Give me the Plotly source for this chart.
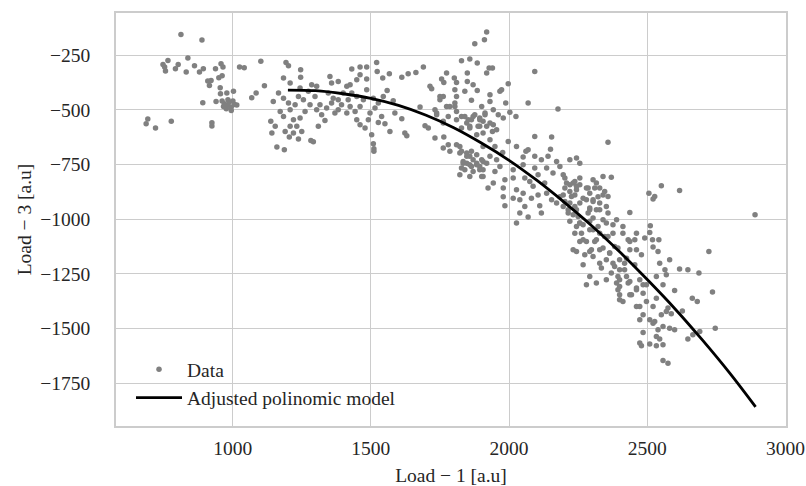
import plotly.graph_objects as go

# ---------------- data ----------------
# scatter points, grouped by region of the chart: (Load-1, Load-3)
pts_far_left = [(813,-156),(889,-181),(766,-275),(748,-293),(754,-305),(757,-323),(803,-293),(793,-313),
    (838,-264),(862,-299),(832,-328),(880,-328),(894,-313),(938,-313),(958,-290),(965,-305),(962,-345),
    (950,-354),(910,-369),(922,-366),(916,-389),(955,-399),(979,-424),(1003,-416),(956,-427),(892,-468),
    (940,-462),(962,-460),(970,-473),(983,-480),(995,-488),(1007,-476),(988,-465),(977,-495),(1001,-460),
    (1015,-478),(967,-485),(995,-503),(983,-454),(1025,-305),(1042,-308),(1102,-279),(1115,-390),
    (1085,-424),(1069,-445),(693,-542),(687,-564),(721,-584),(778,-553),(925,-559),(925,-574)]

pts_left = [(1193,-284),(1202,-299),(1246,-317),(1246,-351),(1184,-355),(1208,-378),(1166,-424),
    (1147,-462),(1184,-447),(1202,-469),(1172,-508),(1184,-531),(1208,-500),(1226,-477),(1238,-439),
    (1256,-454),(1244,-401),(1286,-386),(1304,-393),(1274,-416),(1298,-439),(1280,-477),(1316,-477),
    (1304,-500),(1262,-508),(1244,-538),(1220,-546),(1232,-576),(1208,-576),(1220,-606),(1190,-599),
    (1138,-553),(1154,-576),(1142,-606),(1250,-599),(1238,-634),(1205,-625),(1160,-670),(1187,-683),
    (1283,-640),(1292,-646),(1310,-576),(1334,-549),(1322,-523),(1352,-348),(1358,-378),(1382,-371),
    (1346,-424),(1364,-447),(1358,-469),(1382,-454),(1400,-424),(1413,-393),(1431,-314),(1461,-305),
    (1485,-305),(1461,-340),(1485,-360),(1449,-363),(1425,-386),(1431,-424),(1449,-439),(1418,-454),
    (1425,-485),(1413,-515),(1443,-508),(1461,-485),(1473,-454),(1485,-409),(1449,-546),(1461,-569),
    (1479,-584),(1491,-546),(1497,-515),(1515,-492),(1527,-469),(1509,-447),(1521,-284),(1523,-325),
    (1543,-355),(1567,-335),(1559,-412),(1545,-439),(1587,-515),(1539,-531),(1527,-558),(1551,-564),
    (1569,-599),(1503,-614),(1509,-655),(1511,-678),(1511,-690),(1382,-500),(1394,-477),(1370,-515),
    (1340,-492)]

pts_mid = [(1919,-145),(1911,-180),(1876,-198),(1828,-276),(1858,-268),(1885,-287),(1690,-305),
    (1663,-330),(1635,-335),(1612,-351),(1774,-332),(1756,-360),(1764,-375),(1802,-355),(1810,-375),
    (1849,-332),(1849,-371),(1870,-386),(1919,-332),(1928,-309),(1940,-309),(1997,-381),(1714,-393),
    (1720,-404),(1804,-409),(1840,-416),(1885,-412),(1967,-416),(1973,-409),(1750,-439),(1750,-454),
    (1810,-439),(1804,-469),(1864,-457),(1931,-431),(1931,-462),(1988,-469),(2069,-469),(2093,-325),
    (1581,-459),(1612,-541),(1678,-488),(1696,-573),(1708,-584),(1623,-606),(1630,-619),(1732,-500),
    (1738,-523),(1774,-485),(1780,-531),(1762,-553),(1810,-508),(1810,-546),(1840,-531),(1847,-561),
    (1864,-546),(1876,-523),(1894,-538),(1906,-553),(1888,-576),(1919,-576),(1943,-569),(1955,-591),
    (1858,-584),(1828,-584),(1883,-614),(1979,-538),(2025,-531),(1732,-629),(1764,-625),(1780,-660),
    (1762,-675),(1786,-690),(1810,-660),(1822,-668),(1822,-698),(1847,-698),(1858,-713),(1870,-728),
    (1847,-744),(1883,-751),(1906,-736),(1931,-713),(1997,-645),(2027,-668),(2061,-690),(2069,-683),
    (2051,-716),(2093,-622),(2093,-713),(1834,-736),(1864,-759),(1894,-759),(1828,-766)]

pts_mid_dense = [(1828,-690),(1847,-713),(1864,-690),(1883,-706),(1834,-744),(1858,-751),(1883,-744),
    (1901,-728),(1840,-774),(1870,-782),(1894,-774),(1822,-797),(1858,-805),(1906,-805),(1828,-531),
    (1852,-546),(1870,-531),(1894,-546),(1913,-523),(1858,-576),(1894,-576),(1931,-561),(1786,-485),
    (1804,-485),(1762,-439),(1738,-515),(1762,-561)]

pts_center = [(2177,-497),(2003,-512),(1940,-599),(2154,-625),(2358,-649),(2150,-680),(1977,-695),
    (1919,-744),(2117,-728),(2141,-713),(2172,-736),(2220,-728),(2244,-721),(2256,-744),(2051,-751),
    (2015,-774),(1949,-782),(1901,-805),(1985,-820),(2015,-812),(2093,-766),(2136,-766),(2105,-797),
    (2159,-789),(2184,-759),(2057,-812),(2075,-828),(1924,-858),(1979,-858),(2027,-866),(2051,-881),
    (2087,-850),(2129,-835),(2202,-812),(2208,-835),(2238,-828),(2256,-812),(2304,-820),(2340,-805),
    (1979,-897),(2015,-904),(2039,-911),(2081,-904),(2105,-889),(2136,-881),(2154,-911),(2184,-897),
    (2220,-873),(2244,-866),(2280,-858),(2310,-858),(2346,-873),(2322,-897),(2280,-911),(2256,-926),
    (2220,-926),(2196,-942),(2172,-926),(2111,-939),(2057,-942),(1985,-939),(2039,-972),(2069,-990),
    (2117,-972),(2027,-1018),(2214,-972),(2244,-957),(2292,-957),(2328,-926),(2352,-942),(2304,-995),
    (2340,-1003),(2256,-1018),(2220,-1010),(1901,-485),(1913,-515),(1943,-500),(1961,-523),(1906,-606),
    (1931,-637),(1906,-668),(1949,-668),(1955,-728),(1906,-774),(1967,-759),(1943,-835)]

pts_right = [(2196,-797),(2370,-808),(2551,-847),(2617,-869),(2506,-881),(2527,-896),(2521,-908),
    (2292,-881),(2328,-858),(2358,-896),(2304,-919),(2202,-919),(2214,-957),(2250,-988),(2286,-972),
    (2316,-957),(2437,-969),(2389,-1003),(2376,-1026),(2412,-1033),(2461,-1064),(2455,-1094),
    (2431,-1094),(2491,-1086),(2509,-1061),(2519,-1094),(2542,-1094),(2521,-1127),(2539,-1148),
    (2479,-1163),(2437,-1140),(2262,-1064),(2280,-1102),(2244,-1148),(2274,-1163),(2298,-1140),
    (2316,-1094),(2328,-1064),(2358,-1079),(2340,-1132),(2364,-1155),(2382,-1125),(2400,-1185),
    (2425,-1178),(2268,-1208),(2334,-1223),(2382,-1216),(2418,-1231),(2455,-1208),(2292,-1262),
    (2280,-1300),(2316,-1292),(2352,-1277),(2394,-1262),(2400,-1308),(2437,-1285),(2461,-1315),
    (2400,-1345),(2443,-1345),(2485,-1338),(2533,-1262),(2564,-1231),(2581,-1185),(2617,-1228),
    (2647,-1231),(2557,-1300),(2599,-1326),(2202,-858),(2220,-843),(2244,-850),(2196,-889),
    (2226,-896),(2238,-942),(2232,-980),(2244,-1033),(2268,-1026),(2292,-1010),(2304,-1048),
    (2238,-1064),(2256,-1102),(2232,-1140),(2304,-1170),(2328,-1201),(2352,-1185),(2370,-1246),
    (2389,-1292),(2425,-1262),(2473,-1277),(2497,-1300),(2412,-1376)]

pts_right_dense = [(2232,-835),(2256,-843),(2286,-858),(2316,-835),(2340,-889),(2238,-889),(2268,-904),
    (2304,-911),(2292,-949),(2328,-957),(2358,-972),(2256,-1018),(2292,-1048),(2322,-1033),(2352,-1018),
    (2268,-1094),(2310,-1102),(2346,-1079),(2376,-1064),(2292,-1148),(2328,-1140),(2364,-1155),
    (2394,-1132),(2376,-1201),(2400,-1231),(2418,-1201),(2400,-1277),(2431,-1292),(2394,-1323),
    (2461,-1323),(2485,-1300),(2437,-1345),(2412,-1064),(2437,-1102),(2461,-1140)]

pts_low_right = [(2723,-1148),(2687,-1246),(2545,-1201),(2569,-1254),(2736,-1333),(2663,-1361),
    (2681,-1376),(2627,-1419),(2575,-1406),(2551,-1437),(2569,-1422),(2587,-1432),(2521,-1399),
    (2533,-1361),(2497,-1376),(2473,-1399),(2485,-1437),(2473,-1460),(2509,-1460),(2527,-1467),
    (2557,-1490),(2581,-1498),(2599,-1505),(2539,-1505),(2521,-1475),(2533,-1536),(2545,-1548),
    (2485,-1518),(2473,-1566),(2479,-1578),(2509,-1570),(2533,-1578),(2557,-1574),(2647,-1548),
    (2665,-1528),(2690,-1513),(2746,-1498),(2557,-1646),(2575,-1658),(2400,-1368),(2461,-1399),
    (2890,-980),(2511,-1030)]

# fitted polynomial model, sampled along the drawn curve
model_x = [1200, 1300, 1400, 1500, 1600, 1700, 1800, 1900, 2000, 2100, 2200, 2300, 2400, 2500, 2600, 2700, 2800, 2892]
model_y = [-410, -413, -427, -448, -480, -525, -582, -652, -731, -822, -923, -1031, -1149, -1276, -1409, -1553, -1706, -1858]

x_tick_vals = [1000, 1500, 2000, 2500, 3000]
x_tick_text = ["1000", "1500", "2000", "2500", "3000"]
y_tick_vals = [-250, -500, -750, -1000, -1250, -1500, -1750]
y_tick_text = ["\u2212250", "\u2212500", "\u2212750", "\u22121000", "\u22121250", "\u22121500", "\u22121750"]

# ---------------- figure ----------------
all_pts = (pts_far_left + pts_left + pts_mid + pts_mid_dense + pts_center
           + pts_right + pts_right_dense + pts_low_right)
data_x = [p[0] for p in all_pts]
data_y = [p[1] for p in all_pts]

FONT = "Liberation Serif"
FS = 19.5
TXT = "#262626"
GRID = "#cccccc"

fig = go.Figure()
fig.add_trace(go.Scatter(
    x=data_x, y=data_y, mode="markers", name="Data",
    marker=dict(color="#808080", size=5.5, line=dict(width=0)),
    legendgroup="a",
))
fig.add_trace(go.Scatter(
    x=model_x, y=model_y, mode="lines", name="Adjusted polinomic model",
    line=dict(color="black", width=2.8, shape="spline", smoothing=1.0),
    legendgroup="b",
))

axis_common = dict(
    showgrid=True, gridcolor=GRID, gridwidth=1,
    showline=True, linecolor=GRID, linewidth=1.5, mirror=True,
    zeroline=False, ticks="", automargin=False,
    tickfont=dict(family=FONT, size=FS, color=TXT),
)

fig.update_layout(
    width=806, height=486,
    margin=dict(l=116, r=20, t=13, b=60, autoexpand=False),
    paper_bgcolor="white", plot_bgcolor="white",
    font=dict(family=FONT, size=FS, color=TXT),
    xaxis=dict(range=[578, 3002], tickvals=x_tick_vals, ticktext=x_tick_text,
               ticklabelstandoff=4,
               title=dict(text="Load \u2212 1 [a.u]", font=dict(family=FONT, size=FS, color=TXT), standoff=10),
               **axis_common),
    yaxis=dict(range=[-1945, -58], tickvals=y_tick_vals, ticktext=y_tick_text,
               ticklabelstandoff=20,
               title=dict(text="Load \u2212 3 [a.u]", font=dict(family=FONT, size=FS, color=TXT), standoff=4),
               **axis_common),
    showlegend=True,
    legend=dict(x=0.0224, y=0.184, xanchor="left", yanchor="top",
                bgcolor="rgba(0,0,0,0)", borderwidth=0,
                font=dict(family=FONT, size=FS, color=TXT),
                traceorder="grouped", tracegroupgap=0, itemwidth=46),
)

fig.write_html("out.html")
